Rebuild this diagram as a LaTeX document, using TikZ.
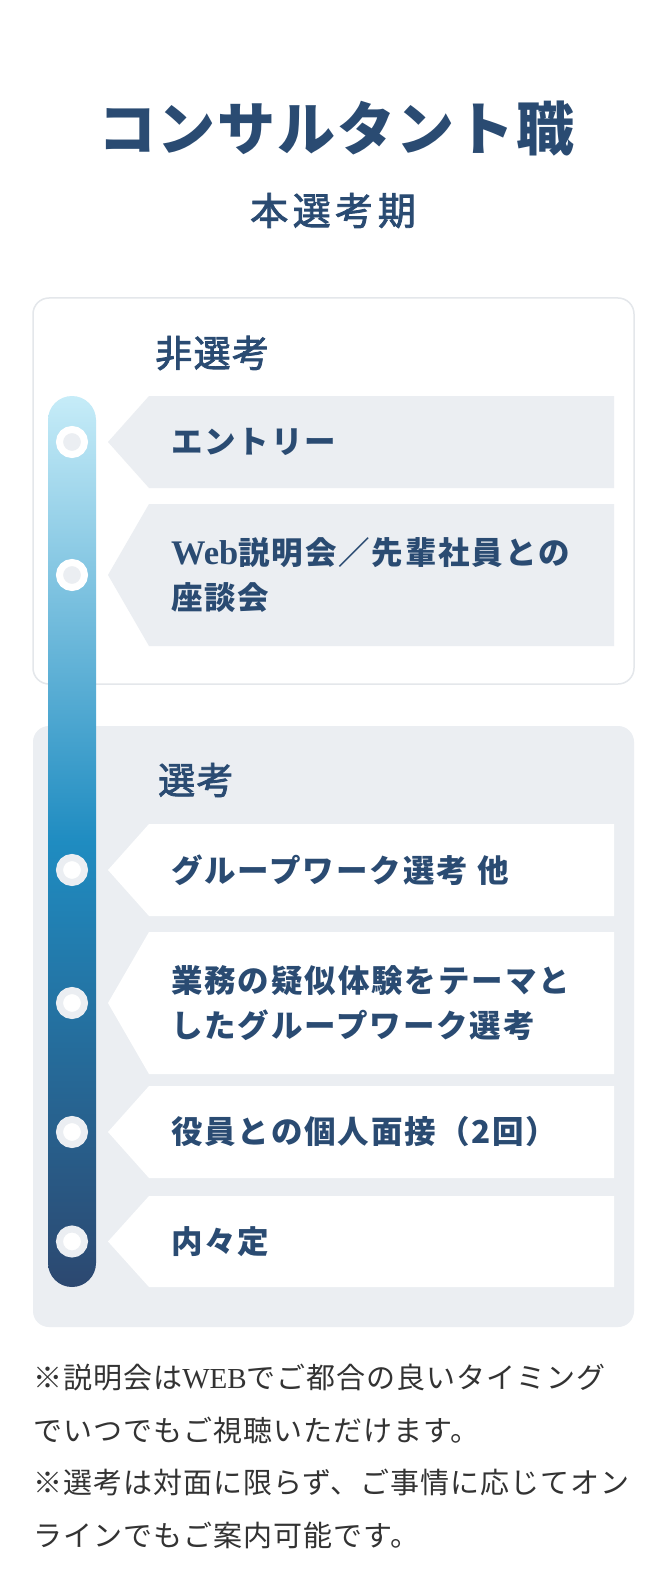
\documentclass[tikz,border=0pt]{standalone}
\usepackage{fontspec}
\setmainfont{Noto Sans CJK JP}
\newfontfamily\jptitle[LetterSpace=3]{Noto Sans CJK JP}
\newfontfamily\jpsub[LetterSpace=12,FakeBold=2.2]{Noto Sans CJK JP}
\newfontfamily\jpgroup[LetterSpace=4,FakeBold=2.2]{Noto Sans CJK JP}
\newfontfamily\jpitem[LetterSpace=6]{Noto Sans CJK JP}
\newfontfamily\jpnote[LetterSpace=3.5]{Noto Sans CJK JP}
\newfontfamily\lser{Liberation Serif}
\definecolor{navy}{RGB}{42,75,114}
\definecolor{paleg}{RGB}{235,238,242}
\definecolor{bord}{RGB}{228,231,235}
\definecolor{txtg}{RGB}{51,51,51}
\definecolor{bartop}{RGB}{198,236,248}
\definecolor{barmid}{RGB}{31,140,193}
\definecolor{barbot}{RGB}{44,72,112}
\newcommand\mypent[3]{\fill[#1] (614,#2) -- (149,#2) -- (108,{(#2+#3)/2}) -- (149,#3) -- (614,#3) -- cycle;}
\begin{document}
\begin{tikzpicture}[x=1pt,y=-1pt,
  itemtext/.style={anchor=west,inner sep=0pt,align=left,text=navy,font=\jpitem\bfseries\fontsize{31.5}{45}\selectfont},
  grouptext/.style={anchor=west,inner sep=0pt,text=navy,font=\jpgroup\fontsize{37}{40}\selectfont},
  dotA/.style={circle,inner sep=0pt,minimum size=25pt,line width=7pt,draw=white,fill=paleg},
  dotB/.style={circle,inner sep=0pt,minimum size=25pt,line width=7pt,draw=paleg,fill=white}]
\useasboundingbox (0,0) rectangle (670,1594);
\fill[white] (0,0) rectangle (670,1594);
% title
\node[anchor=west,inner sep=0pt,text=navy,font=\jptitle\bfseries\fontsize{58}{60}\selectfont] (title) at (98,129) {コンサルタント職};
\node[anchor=west,inner sep=0pt,text=navy,font=\jpsub\fontsize{38}{40}\selectfont] (sub) at (250,210.5) {本選考期};
% boxes
\draw[bord,line width=1.5pt,fill=white,rounded corners=16pt] (33,298) rectangle (634,684);
\fill[paleg,rounded corners=16pt] (33,726) rectangle (634,1327);
% bar
\shade[top color=bartop,bottom color=barbot,middle color=barmid,rounded corners=24pt] (48,396) rectangle (96,1287);
% group titles
\node[grouptext] (g1) at (155,353) {非選考};
\node[grouptext] (g2) at (158,780) {選考};
% pentagons
\mypent{paleg}{396}{488}
\mypent{paleg}{504}{646}
\mypent{white}{824}{916}
\mypent{white}{932}{1074}
\mypent{white}{1086}{1178}
\mypent{white}{1196}{1287}
% dots
\node[dotA] (d1) at (72,442) {};
\node[dotA] (d2) at (72,575) {};
\node[dotB] (d3) at (72,870) {};
\node[dotB] (d4) at (72,1003) {};
\node[dotB] (d5) at (72,1132) {};
\node[dotB] (d6) at (72,1241.5) {};
% item texts
\node[itemtext] (t1) at (171,442) {エントリー};
\node[itemtext] (t2) at (171,575) {{\lser\bfseries\fontsize{34.5}{45}\selectfont Web}説明会／先輩社員との\\座談会};
\node[itemtext] (t3) at (171,870) {グループワーク選考 他};
\node[itemtext] (t4) at (171,1003) {業務の疑似体験をテーマと\\したグループワーク選考};
\node[itemtext] (t5) at (171,1132) {役員との個人面接（2回）};
\node[itemtext] (t6) at (171,1241.5) {内々定};
% note
\node[anchor=west,inner sep=0pt,align=left,text=txtg,font=\jpnote\fontsize{29}{52.5}\selectfont] (note) at (33,1456.25) {※説明会は{\lser WEB}でご都合の良いタイミング\\でいつでもご視聴いただけます。\\※選考は対面に限らず、ご事情に応じてオン\\ラインでもご案内可能です。};
\end{tikzpicture}
\end{document}
